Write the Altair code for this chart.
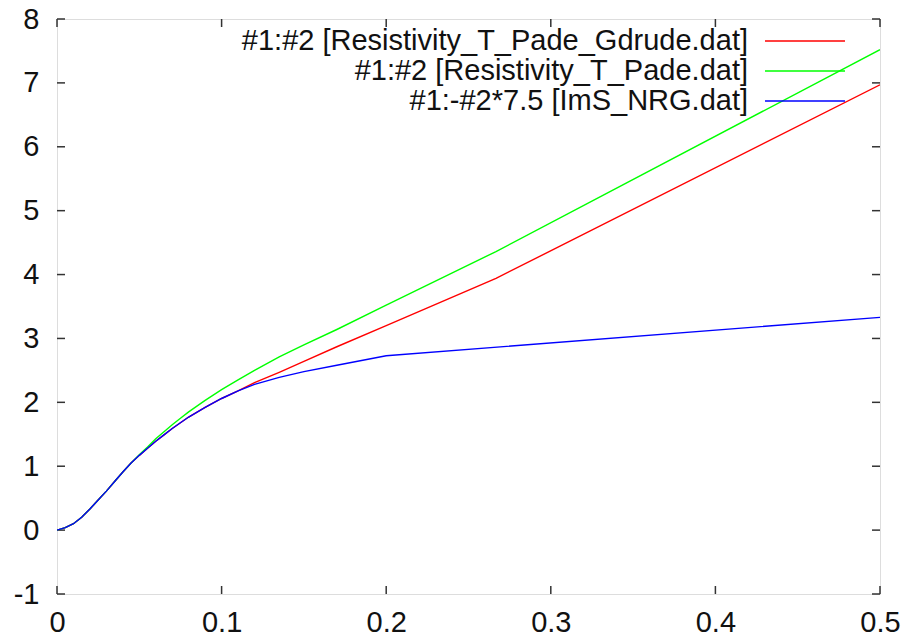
import altair as alt
import pandas as pd

# ---- data ----
names = [
    "#1:#2 [Resistivity_T_Pade_Gdrude.dat]",
    "#1:#2 [Resistivity_T_Pade.dat]",
    "#1:-#2*7.5 [ImS_NRG.dat]",
]
colors = ["#ff0000", "#00ff00", "#0000ff"]

x_red = [0, 0.005, 0.01, 0.015, 0.02, 0.025, 0.03, 0.035, 0.04, 0.045, 0.05, 0.055, 0.06,
         0.065, 0.07, 0.075, 0.08, 0.09, 0.1, 0.11, 0.12, 0.135, 0.15, 0.17, 0.2, 0.2667, 0.5]
y_red = [0, 0.04, 0.1, 0.2, 0.33, 0.47, 0.61, 0.76, 0.91, 1.05, 1.17, 1.28, 1.39,
         1.49, 1.59, 1.68, 1.77, 1.92, 2.06, 2.18, 2.31, 2.47, 2.64, 2.87, 3.2, 3.94, 6.97]

x_green = [0, 0.005, 0.01, 0.015, 0.02, 0.025, 0.03, 0.035, 0.04, 0.045, 0.05, 0.055, 0.06,
           0.065, 0.07, 0.075, 0.08, 0.09, 0.1, 0.11, 0.12, 0.135, 0.15, 0.17, 0.2, 0.2667, 0.5]
y_green = [0, 0.04, 0.1, 0.2, 0.33, 0.47, 0.61, 0.76, 0.91, 1.05, 1.18, 1.3, 1.43,
           1.54, 1.65, 1.75, 1.85, 2.03, 2.2, 2.35, 2.5, 2.71, 2.9, 3.14, 3.52, 4.36, 7.52]

x_blue = [0, 0.005, 0.01, 0.015, 0.02, 0.025, 0.03, 0.035, 0.04, 0.045, 0.05, 0.055, 0.06,
          0.065, 0.07, 0.075, 0.08, 0.09, 0.1, 0.11, 0.12, 0.135, 0.15, 0.17, 0.2, 0.5]
y_blue = [0, 0.04, 0.1, 0.2, 0.33, 0.47, 0.61, 0.76, 0.91, 1.05, 1.17, 1.28, 1.39,
          1.49, 1.59, 1.68, 1.77, 1.92, 2.06, 2.18, 2.28, 2.39, 2.48, 2.58, 2.73, 3.33]

x_ticks = [0, 0.1, 0.2, 0.3, 0.4, 0.5]
y_ticks = [-1, 0, 1, 2, 3, 4, 5, 6, 7, 8]

rows = []
for nm, xs, ys in zip(names, [x_red, x_green, x_blue], [y_red, y_green, y_blue]):
    for a, b in zip(xs, ys):
        rows.append({"series": nm, "x": a, "y": b})
df = pd.DataFrame(rows)

W, H = 823, 575
FONT = "Liberation Sans"
FS = 29
TXT = "#111111"

xscale = alt.Scale(domain=[0, 0.5], nice=False, zero=False)
yscale = alt.Scale(domain=[-1, 8], nice=False, zero=False)

base = alt.Chart(df)

lines = base.mark_line(strokeWidth=1.4, clip=True).encode(
    x=alt.X("x:Q", scale=xscale,
            axis=alt.Axis(values=x_ticks, labelExpr="'' + datum.value", title=None,
                          grid=False, domain=False, ticks=False, tickSize=0,
                          labelFont=FONT, labelFontSize=FS, labelColor=TXT,
                          labelPadding=14, labelFlush=False, labelOverlap=False)),
    y=alt.Y("y:Q", scale=yscale,
            axis=alt.Axis(values=y_ticks, labelExpr="'' + datum.value", title=None,
                          grid=False, domain=False, ticks=False, tickSize=0,
                          labelFont=FONT, labelFontSize=FS, labelColor=TXT,
                          labelPadding=18, labelFlush=False, labelOverlap=False)),
    color=alt.Color("series:N", scale=alt.Scale(domain=names, range=colors), legend=None),
)

xt = pd.DataFrame({"t": x_ticks})
yt = pd.DataFrame({"t": y_ticks})
TL = 8
tick_style = dict(color="#333333", strokeWidth=1.5)

xt_bottom = alt.Chart(xt).mark_rule(**tick_style).encode(
    x=alt.X("t:Q", scale=xscale), y=alt.value(H), y2=alt.value(H - TL))
xt_top = alt.Chart(xt).mark_rule(**tick_style).encode(
    x=alt.X("t:Q", scale=xscale), y=alt.value(0), y2=alt.value(TL))
yt_left = alt.Chart(yt).mark_rule(**tick_style).encode(
    y=alt.Y("t:Q", scale=yscale), x=alt.value(0), x2=alt.value(TL))
yt_right = alt.Chart(yt).mark_rule(**tick_style).encode(
    y=alt.Y("t:Q", scale=yscale), x=alt.value(W), x2=alt.value(W - TL))

layers = [xt_bottom, xt_top, yt_left, yt_right, lines]

# legend (gnuplot style, inside top-right)
for i, (nm, c) in enumerate(zip(names, colors)):
    ldf = pd.DataFrame({"label": [nm]})
    yy = 22 + 30 * i
    layers.append(alt.Chart(ldf).mark_text(align="right", baseline="middle", font=FONT,
                                           fontSize=FS, color=TXT).encode(
        text="label:N", x=alt.value(691), y=alt.value(yy)))
    layers.append(alt.Chart(ldf).mark_rule(color=c, strokeWidth=1.4).encode(
        x=alt.value(708), x2=alt.value(788), y=alt.value(yy)))

chart = alt.layer(*layers).properties(
    width=W, height=H,
    autosize=alt.AutoSizeParams(type="none"),
    padding={"left": 57, "top": 19, "right": 25, "bottom": 46},
).configure_view(stroke="#333333", strokeWidth=1.5).configure(background="white")

chart.save("out.html", embed_options={"renderer": "svg", "actions": False})
